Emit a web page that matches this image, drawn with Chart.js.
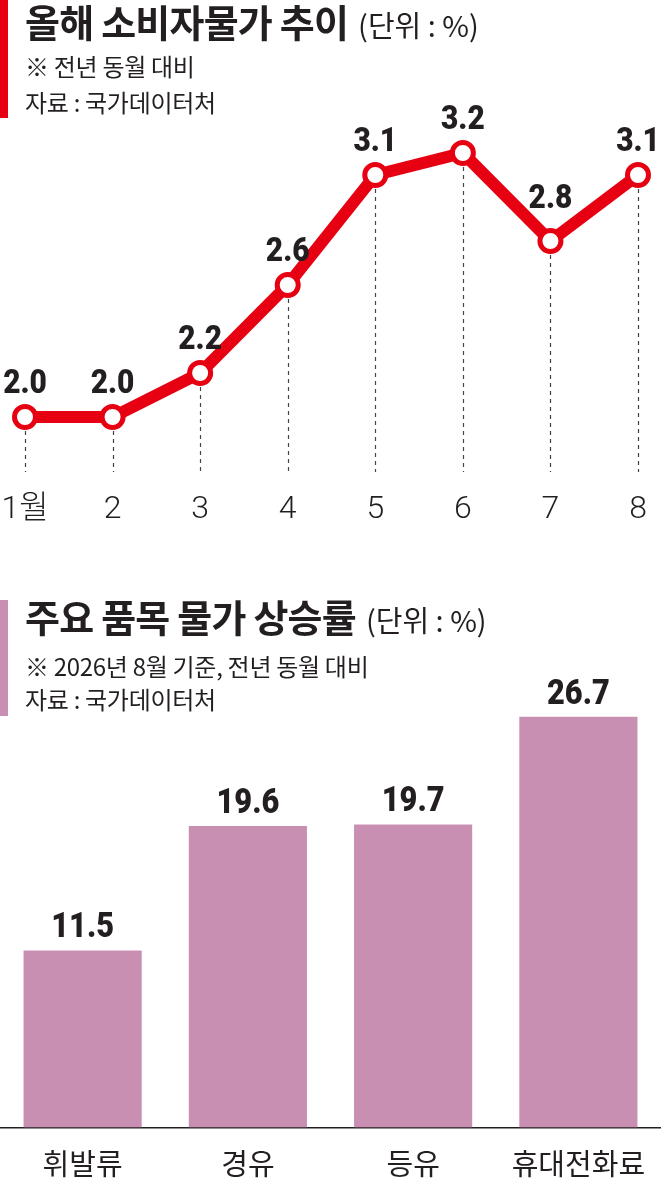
<!DOCTYPE html>
<html><head><meta charset="utf-8">
<script src="https://cdn.jsdelivr.net/npm/chart.js@4.4.1/dist/chart.umd.min.js"></script>
<style>
html,body{margin:0;padding:0;background:#fff;width:661px;height:1181px;overflow:hidden;position:relative;font-family:'Noto Sans CJK KR',sans-serif;color:#231f20;}
.t{position:absolute;left:25px;white-space:nowrap;z-index:2;}
.title{font-size:38px;font-weight:700;line-height:44px;height:44px;letter-spacing:-0.8px;}
.title .u{font-size:29px;font-weight:400;letter-spacing:0px;margin-left:10px;}
.sub{font-size:24px;line-height:32px;height:32px;letter-spacing:-0.3px;}
.bar{position:absolute;left:0;width:8px;z-index:2;}
canvas{position:absolute;left:0;}
#c1wrap{position:absolute;left:0;top:0;width:661px;height:548px;}
#c2wrap{position:absolute;left:0;top:640px;width:661px;height:560px;}
</style>
</head><body>
<div class="bar" style="top:0;height:118px;background:#e60012"></div>
<div class="t title" style="top:-1px">올해 소비자물가 추이<span class="u">(단위 : %)</span></div>
<div class="t sub" style="top:50px">※ 전년 동월 대비</div>
<div class="t sub" style="top:86px">자료 : 국가데이터처</div>

<div class="bar" style="top:600px;height:116px;background:#c98fb2"></div>
<div class="t title" style="top:594px">주요 품목 물가 상승률<span class="u">(단위 : %)</span></div>
<div class="t sub" style="top:650px">※ 2026년 8월 기준, 전년 동월 대비</div>
<div class="t sub" style="top:683px">자료 : 국가데이터처</div>

<div id="c1wrap"><canvas id="c1"></canvas></div>
<div id="c2wrap"><canvas id="c2"></canvas></div>

<script>
// ---- data ----
const monthLabels = ['1월', '2', '3', '4', '5', '6', '7', '8'];
const cpiValues = [2.0, 2.0, 2.2, 2.6, 3.1, 3.2, 2.8, 3.1];

const itemLabels = ['휘발류', '경유', '등유', '휴대전화료'];
const itemValues = [11.5, 19.6, 19.7, 26.7];

// ---- styles ----
const RED = '#e60012';
const PINK = '#c98fb2';
const INK = '#231f20';
const KR = "'Noto Sans CJK KR', sans-serif";
const NUM = "Roboto, 'Noto Sans CJK KR', sans-serif";

const dashPlugin = {
  id: 'dashDrop',
  beforeDatasetsDraw(chart) {
    const ctx = chart.ctx;
    const meta = chart.getDatasetMeta(0);
    const bottom = chart.chartArea.bottom;
    ctx.save();
    ctx.strokeStyle = '#444';
    ctx.lineWidth = 1.2;
    ctx.setLineDash([4, 4]);
    meta.data.forEach(pt => {
      ctx.beginPath();
      ctx.moveTo(Math.round(pt.x) + 0.5, pt.y + 14);
      ctx.lineTo(Math.round(pt.x) + 0.5, bottom);
      ctx.stroke();
    });
    ctx.restore();
  }
};

function drawCondensed(ctx, text, x, y, sx) {
  ctx.save();
  ctx.translate(x, y);
  ctx.scale(sx, 1);
  ctx.fillText(text, 0, 0);
  ctx.restore();
}

const lineLabelPlugin = {
  id: 'lineLabels',
  afterDatasetsDraw(chart) {
    const ctx = chart.ctx;
    const meta = chart.getDatasetMeta(0);
    const vals = chart.data.datasets[0].data;
    ctx.save();
    ctx.fillStyle = INK;
    ctx.font = "900 34px " + NUM;
    ctx.textAlign = 'center';
    ctx.textBaseline = 'middle';
    meta.data.forEach((pt, i) => {
      const prev = i > 0 ? vals[i - 1] : -Infinity;
      const next = i < vals.length - 1 ? vals[i + 1] : -Infinity;
      const isDip = vals[i] < prev && vals[i] < next;
      const off = isDip ? 42 : 33;
      drawCondensed(ctx, vals[i].toFixed(1), pt.x, pt.y - off, 0.88);
    });
    ctx.restore();
  }
};

const barLabelPlugin = {
  id: 'barLabels',
  afterDatasetsDraw(chart) {
    const ctx = chart.ctx;
    const meta = chart.getDatasetMeta(0);
    const vals = chart.data.datasets[0].data;
    ctx.save();
    ctx.fillStyle = INK;
    ctx.font = "900 35px " + NUM;
    ctx.textAlign = 'center';
    ctx.textBaseline = 'middle';
    meta.data.forEach((bar, i) => {
      drawCondensed(ctx, vals[i].toFixed(1), bar.x, bar.y - 22, 0.88);
    });
    ctx.restore();
  }
};

new Chart(document.getElementById('c1'), {
  type: 'line',
  data: {
    labels: monthLabels,
    datasets: [{
      data: cpiValues,
      borderColor: RED,
      borderWidth: 12,
      pointRadius: 10.5,
      pointHoverRadius: 10.5,
      pointBorderWidth: 5,
      pointBackgroundColor: '#fff',
      pointBorderColor: RED,
      tension: 0,
      fill: false,
      clip: false
    }]
  },
  options: {
    responsive: true,
    maintainAspectRatio: false,
    animation: false,
    events: [],
    layout: { autoPadding: false, padding: { top: 120, left: 25, right: 23, bottom: 0 } },
    plugins: { legend: { display: false }, tooltip: { enabled: false } },
    scales: {
      x: {
        offset: false,
        grid: { display: false, drawTicks: false },
        border: { display: false },
        ticks: { color: INK, font: { family: NUM, size: 32, weight: 300, lineHeight: 2.375 }, padding: 0, maxRotation: 0, autoSkip: false }
      },
      y: { display: false, min: 1.75, max: 3.35 }
    }
  },
  plugins: [dashPlugin, lineLabelPlugin]
});

new Chart(document.getElementById('c2'), {
  type: 'bar',
  data: {
    labels: itemLabels,
    datasets: [{
      data: itemValues,
      backgroundColor: PINK,
      borderWidth: 0,
      categoryPercentage: 1,
      barPercentage: 0.715
    }]
  },
  options: {
    responsive: true,
    maintainAspectRatio: false,
    animation: false,
    events: [],
    layout: { autoPadding: false, padding: { top: 26, left: 0, right: 0, bottom: 0 } },
    plugins: { legend: { display: false }, tooltip: { enabled: false } },
    scales: {
      x: {
        grid: { display: false, drawTicks: false },
        border: { display: true, color: INK, width: 1.5 },
        ticks: { color: INK, font: { family: KR, size: 29, weight: 400, lineHeight: 2.5 }, padding: 0, maxRotation: 0, autoSkip: false }
      },
      y: { display: false, min: 0, max: 30 }
    }
  },
  plugins: [barLabelPlugin]
});
</script>
</body></html>
